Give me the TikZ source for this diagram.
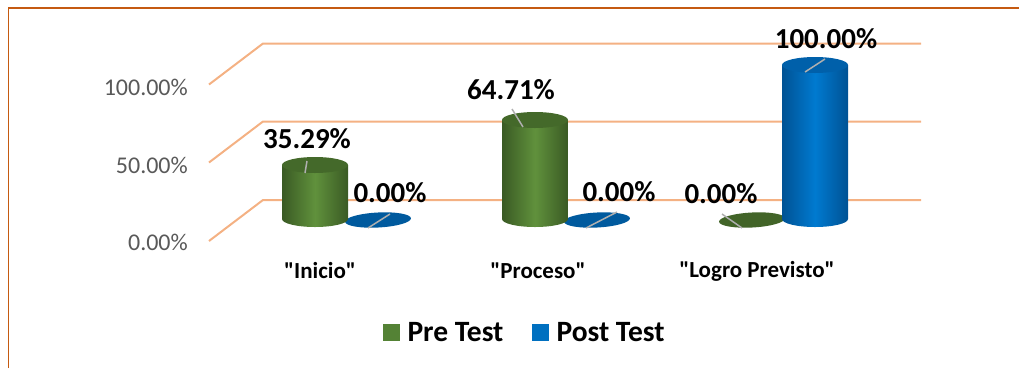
\documentclass[tikz,border=0pt]{standalone}
\usepackage{fontspec}
\setmainfont{Carlito}
\usepackage{tikz}
\usetikzlibrary{positioning,calc}
\definecolor{framered}{RGB}{197,90,17}
\definecolor{gridorange}{RGB}{244,177,131}
\definecolor{axisgray}{RGB}{89,89,89}
\definecolor{pregreen}{RGB}{84,130,53}
\definecolor{pregreendark}{RGB}{58,90,36}
\definecolor{pregreenlight}{RGB}{96,145,60}
\definecolor{pregreentop}{RGB}{68,105,42}
\definecolor{postblue}{RGB}{0,112,192}
\definecolor{postbluedark}{RGB}{0,82,148}
\definecolor{postbluelight}{RGB}{0,122,208}
\definecolor{postbluetop}{RGB}{0,96,170}
\definecolor{discblue}{RGB}{0,90,158}
\definecolor{discgreen}{RGB}{66,100,40}
\definecolor{leadergray}{RGB}{175,175,175}

\tikzset{
  axislabel/.style={anchor=east,inner sep=0pt,text=axisgray,font=\fontsize{24}{28}\selectfont},
  vallabel/.style={font=\fontsize{29}{34}\selectfont\bfseries},
  catlabel/.style={font=\fontsize{23}{27}\selectfont\bfseries},
  keylabel/.style={anchor=west,font=\fontsize{29.5}{34}\selectfont\bfseries},
  leader/.style={leadergray,line width=1.5pt},
}

\begin{document}
\begin{tikzpicture}[x=1pt,y=-1pt]
\useasboundingbox (0,0) rectangle (1019,368);
\draw[framered,line width=1.5pt] (8.5,368) -- (8.5,8) -- (1019,8);
\foreach \ly/\gy/\val [count=\i] in {242/200/0.00\%, 165/121.5/50.00\%, 87/43.5/100.00\%}{
  \draw[gridorange,line width=2pt] (209,\gy+41) -- (263,\gy) -- (921,\gy);
  \node[axislabel] (tick\i) at (188,\ly) {\val};
}
\foreach \cx/\col in {378/discblue,597/discblue,752/discgreen}{
  \fill[\col,rotate around={3:(\cx,220)}] (\cx,220) ellipse[x radius=33pt,y radius=7.5pt];
}
\foreach \cx/\top/\dk/\lt/\tp in {315/165/pregreendark/pregreenlight/pregreentop,
    535/120/pregreendark/pregreenlight/pregreentop,
    815/65/postbluedark/postbluelight/postbluetop}{
  \shade[left color=\dk,right color=\dk,middle color=\lt]
    (\cx-33,\top) -- (\cx-33,219) arc[start angle=180,end angle=360,x radius=33pt,y radius=8pt]
    -- (\cx+33,\top) -- cycle;
  \fill[\tp] (\cx,\top) ellipse[x radius=33pt,y radius=8pt];
}
\node[vallabel] (v1) at (307,139) {35.29\%};
\node[vallabel] (v2) at (390,193) {0.00\%};
\node[vallabel] (v3) at (511,90) {64.71\%};
\node[vallabel] (v4) at (619,192) {0.00\%};
\node[vallabel] (v5) at (721,194) {0.00\%};
\node[vallabel] (v6) at (826,39) {100.00\%};
\foreach \n/\ax/\ay/\bx/\by in {1/307/161/305/173, 2/390/214/368/228, 3/512/109/523/127,
    4/617/212/586/228, 5/722/214/742/228, 6/825/59/805/72}{
  \coordinate (lead\n a) at (\ax,\ay);
  \coordinate (lead\n b) at (\bx,\by);
  \draw[leader] (lead\n a) -- (lead\n b);
}
\node[catlabel] (cat1) at (320,271) {\textquotedbl Inicio\textquotedbl};
\node[catlabel] (cat2) at (538,271) {\textquotedbl Proceso\textquotedbl};
\node[catlabel] (cat3) at (757,271) {\textquotedbl Logro Previsto\textquotedbl};
\fill[pregreen] (383,324) rectangle (400,341);
\node[keylabel] (key1) at (404,332) {Pre Test};
\fill[postblue] (532,324) rectangle (549,341);
\node[keylabel] (key2) at (553,332) {Post Test};
\end{tikzpicture}
\end{document}
